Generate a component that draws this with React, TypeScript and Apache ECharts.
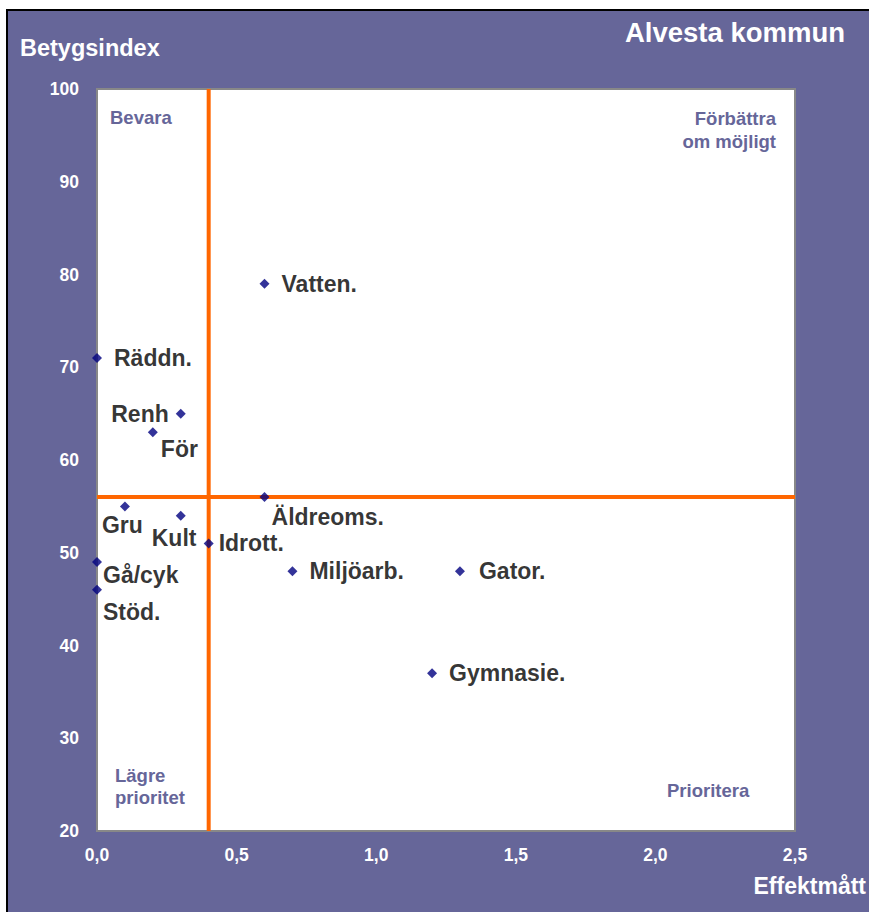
import React, { useEffect, useRef } from "react";
import * as echarts from "echarts";

const NAMES = ["Vatten.", "Räddn.", "Renh", "För", "Äldreoms.", "Gru", "Kult", "Idrott.", "Gå/cyk", "Stöd.", "Miljöarb.", "Gator.", "Gymnasie."];
const EFFEKT = [0.6, 0.0, 0.3, 0.2, 0.6, 0.1, 0.3, 0.4, 0.0, 0.0, 0.7, 1.3, 1.2];
const BETYG = [79, 71, 65, 63, 56, 55, 54, 51, 49, 46, 48, 48, 37];
const X_THRESHOLD = 0.4;
const Y_THRESHOLD = 56;
const X_RANGE = [0, 2.5];
const Y_RANGE = [20, 100];

// label placement (separate from the data)
const LABEL_POS = ["right", "right", "left", "right", "right", "right", "right", "right", "right", "right", "right", "right", "right"];
const LABEL_OFFSET = [[0, 0], [0, 0], [0, 0], [-9, 17], [-10, 20], [-40, 19], [-46, 22], [-7, 0], [-11, 13], [-11, 22], [0, 0], [2, 0], [0, 0]];

const PURPLE = "#666699";
const FONT = '"Liberation Sans", Arial, sans-serif';

export default function App() {
  const ref = useRef<HTMLDivElement>(null);
  useEffect(() => {
    if (!ref.current) return;
    const chart = echarts.init(ref.current, null, { renderer: "svg" });
    const points = NAMES.map((n, i) => ({
      name: n,
      value: [EFFEKT[i], BETYG[i]],
      label: {
        position: LABEL_POS[i],
        distance: LABEL_POS[i] === "left" ? 7 : 12,
        offset: LABEL_OFFSET[i],
      },
    }));
    const txt = (text: string, x: number, y: number, size: number, fill: string, align: string) => ({
      type: "text",
      z: 100,
      style: { text, x, y, fill, font: `bold ${size}px ${FONT}`, align, verticalAlign: "middle" },
    });
    chart.setOption({
      animation: false,
      backgroundColor: "#ffffff",
      textStyle: { fontFamily: FONT },
      grid: {
        left: 97,
        top: 89,
        width: 698,
        height: 742,
        show: true,
        backgroundColor: "#ffffff",
        borderColor: "#888888",
        borderWidth: 2,
        z: 1,
      },
      xAxis: {
        type: "value",
        min: X_RANGE[0],
        max: X_RANGE[1],
        interval: 0.5,
        axisLine: { show: false },
        axisTick: { show: true, inside: true, length: 6, lineStyle: { color: "#888888" } },
        splitLine: { show: true, lineStyle: { color: "#ccccff", width: 1 } },
        axisLabel: {
          color: "#ffffff",
          fontWeight: "bold",
          fontSize: 17.5,
          fontFamily: FONT,
          margin: 15,
          formatter: (v: number) => v.toFixed(1).replace(".", ","),
        },
      },
      yAxis: {
        type: "value",
        min: Y_RANGE[0],
        max: Y_RANGE[1],
        interval: 10,
        axisLine: { show: false },
        axisTick: { show: true, inside: true, length: 6, lineStyle: { color: "#888888" } },
        splitLine: { show: true, lineStyle: { color: "#ccccff", width: 1 } },
        axisLabel: {
          color: "#ffffff",
          fontWeight: "bold",
          fontSize: 17.5,
          fontFamily: FONT,
          margin: 18,
        },
      },
      graphic: [
        {
          type: "rect",
          z: -100,
          shape: { x: 7, y: 10, width: 900, height: 950 },
          style: { fill: PURPLE, stroke: "#000000", lineWidth: 2 },
        },
        txt("Betygsindex", 20, 48, 23.5, "#ffffff", "left"),
        txt("Alvesta kommun", 845, 32, 27.5, "#ffffff", "right"),
        txt("Effektmått", 866, 886, 23, "#ffffff", "right"),
        txt("Bevara", 110, 117, 18.5, PURPLE, "left"),
        txt("Förbättra", 776, 118, 18.5, PURPLE, "right"),
        txt("om möjligt", 776, 141, 18.5, PURPLE, "right"),
        txt("Lägre", 115, 775, 18.5, PURPLE, "left"),
        txt("prioritet", 115, 797, 18.5, PURPLE, "left"),
        txt("Prioritera", 667, 790, 18.5, PURPLE, "left"),
      ],
      series: [
        {
          type: "line",
          z: 2,
          showSymbol: false,
          silent: true,
          data: [[X_THRESHOLD, Y_RANGE[0]], [X_THRESHOLD, Y_RANGE[1]]],
          lineStyle: { color: "#ff6600", width: 4 },
        },
        {
          type: "line",
          z: 2,
          showSymbol: false,
          silent: true,
          data: [[X_RANGE[0], Y_THRESHOLD], [X_RANGE[1], Y_THRESHOLD]],
          lineStyle: { color: "#ff6600", width: 4 },
        },
        {
          type: "scatter",
          z: 3,
          symbol: "diamond",
          symbolSize: 10,
          itemStyle: { color: "#000080" },
          label: {
            show: true,
            formatter: "{b}",
            color: "#000000",
            fontWeight: "bold",
            fontSize: 23,
            fontFamily: FONT,
          },
          data: points,
        },
      ],
    });
    return () => chart.dispose();
  }, []);
  return (
    <div
      ref={ref}
      style={{ position: "absolute", left: 0, top: 0, width: 869, height: 912 }}
    />
  );
}
